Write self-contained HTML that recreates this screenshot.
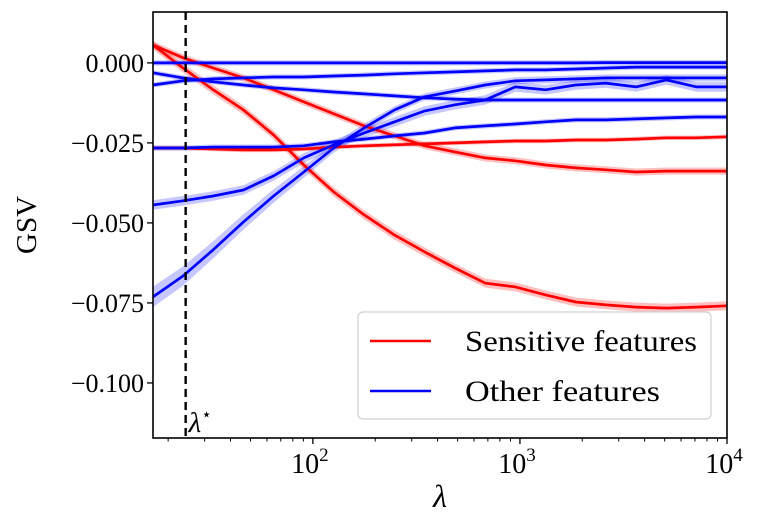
<!DOCTYPE html>
<html><head><meta charset="utf-8"><style>
body{margin:0;background:#fff;}
svg{display:block;font-family:"Liberation Serif","DejaVu Serif",serif;}
</style></head><body>
<svg id="chart" width="761" height="527">
<g id="bands"></g>
<g id="lines"></g>
<g id="axes"></g>
</svg>
<script>
const lambdas=[16.9,23.6,33.0,46.2,64.6,90.4,126,177,248,347,485,679,950,1330,1860,2600,3640,5100,7130,10000];
const lambdaStar=24.3;
const sensA=[0.0056,-0.0016,-0.0084,-0.0147,-0.0225,-0.0319,-0.0403,-0.0475,-0.0538,-0.0591,-0.0641,-0.0688,-0.0700,-0.0725,-0.0747,-0.0756,-0.0763,-0.0766,-0.0763,-0.0759];
const sensB=[0.0056,0.0016,-0.0016,-0.0047,-0.0084,-0.0122,-0.0159,-0.0197,-0.0228,-0.0259,-0.0278,-0.0297,-0.0306,-0.0319,-0.0328,-0.0334,-0.0341,-0.0338,-0.0338,-0.0338];
const sensC=[-0.0266,-0.0266,-0.0269,-0.0272,-0.0272,-0.0269,-0.0263,-0.0259,-0.0256,-0.0253,-0.0250,-0.0247,-0.0244,-0.0244,-0.0241,-0.0241,-0.0238,-0.0234,-0.0234,-0.0231];
const othA=[0,0,0,0,0,0,0,0,0,0,0,0,0,0,0,0.0001,0.0001,0.0001,0.0001,0.0001];
const othB=[-0.0031,-0.0047,-0.0059,-0.0069,-0.0078,-0.0084,-0.0091,-0.0097,-0.0103,-0.0109,-0.0113,-0.0116,-0.0116,-0.0116,-0.0116,-0.0116,-0.0116,-0.0116,-0.0116,-0.0116];
const othC=[-0.0069,-0.0056,-0.0050,-0.0047,-0.0044,-0.0044,-0.0041,-0.0038,-0.0034,-0.0031,-0.0028,-0.0025,-0.0022,-0.0022,-0.0019,-0.0016,-0.0013,-0.0013,-0.0013,-0.0013];
const othD=[-0.0266,-0.0266,-0.0263,-0.0263,-0.0263,-0.0259,-0.0247,-0.0238,-0.0228,-0.0219,-0.0203,-0.0197,-0.0191,-0.0184,-0.0178,-0.0178,-0.0175,-0.0172,-0.0169,-0.0169];
const othE=[-0.0731,-0.0666,-0.0584,-0.0497,-0.0416,-0.0341,-0.0266,-0.0203,-0.0147,-0.0106,-0.0088,-0.0069,-0.0056,-0.0053,-0.0050,-0.0047,-0.0047,-0.0047,-0.0047,-0.0047];
const othF=[-0.0444,-0.0431,-0.0416,-0.0397,-0.0353,-0.0297,-0.0256,-0.0219,-0.0184,-0.0150,-0.0131,-0.0116,-0.0075,-0.0084,-0.0069,-0.0063,-0.0075,-0.0053,-0.0075,-0.0075];
const bandWide=[0.0032,0.0030,0.0027,0.0024,0.0021,0.0018,0.0015,0.0013,0.0012,0.0011,0.0011,0.0011,0.0011,0.0011,0.0011,0.0011,0.0011,0.0011,0.0011,0.0011];
const yTicks=[0,-0.025,-0.05,-0.075,-0.1];
const yTickLabels=["0.000","\u22120.025","\u22120.050","\u22120.075","\u22120.100"];
const xTicks=[100,1000,10000];
const xTickLabels=["2","3","4"];

const X0=153,X1=727,Y0=12,Y1=438;
const lmin=Math.log10(16.9),lmax=4;
const yTop=0.0159,yBot=-0.1172;
function sx(v){return X0+(Math.log10(v)-lmin)/(lmax-lmin)*(X1-X0);}
function sy(v){return Y0+(yTop-v)/(yTop-yBot)*(Y1-Y0);}
const NS="http://www.w3.org/2000/svg";
function mk(tag,attrs,parent){const e=document.createElementNS(NS,tag);for(const k in attrs)e.setAttribute(k,attrs[k]);parent.appendChild(e);return e;}
const bands=document.getElementById('bands'),lines=document.getElementById('lines'),axes=document.getElementById('axes');

const series=[
 {name:'sensitive-series-a',vals:sensA,sd:0.0014,color:'#ff0000',band:'rgba(255,0,0,0.25)'},
 {name:'sensitive-series-b',vals:sensB,sd:0.0011,color:'#ff0000',band:'rgba(255,0,0,0.25)'},
 {name:'sensitive-series-c',vals:sensC,sd:0.0007,color:'#ff0000',band:'rgba(255,0,0,0.25)'},
 {name:'other-series-a',vals:othA,sd:0.0008,color:'#0000ff',band:'rgba(0,0,255,0.22)'},
 {name:'other-series-b',vals:othB,sd:0.0008,color:'#0000ff',band:'rgba(0,0,255,0.22)'},
 {name:'other-series-c',vals:othC,sd:0.0008,color:'#0000ff',band:'rgba(0,0,255,0.22)'},
 {name:'other-series-d',vals:othD,sd:0.0008,color:'#0000ff',band:'rgba(0,0,255,0.22)'},
 {name:'other-series-e',vals:othE,sd:bandWide,color:'#0000ff',band:'rgba(0,0,255,0.22)'},
 {name:'other-series-f',vals:othF,sd:0.0015,color:'#0000ff',band:'rgba(0,0,255,0.22)'}
];
series.forEach(s=>{
  const sd=i=>Array.isArray(s.sd)?s.sd[i]:s.sd;
  let up=s.vals.map((v,i)=>sx(lambdas[i]).toFixed(1)+','+sy(v+sd(i)).toFixed(1));
  let dn=s.vals.map((v,i)=>sx(lambdas[i]).toFixed(1)+','+sy(v-sd(i)).toFixed(1)).reverse();
  const b=mk('polygon',{points:up.concat(dn).join(' '),fill:s.band,stroke:'none'},bands);
  
  
  const p=mk('polyline',{points:s.vals.map((v,i)=>sx(lambdas[i]).toFixed(1)+','+sy(v).toFixed(1)).join(' '),fill:'none',stroke:s.color,'stroke-width':2.7,'stroke-linejoin':'round'},lines);
  
  
});

const ls=mk('line',{x1:sx(lambdaStar),x2:sx(lambdaStar),y1:Y0,y2:Y1,stroke:'#000','stroke-width':2.4,'stroke-dasharray':'8,5'},axes);


const lst=mk('text',{x:sx(lambdaStar)+3,y:432,'font-size':29,'font-style':'italic'},axes);
lst.textContent='λ';


const lsts=mk('tspan',{dy:-12,'font-size':17,'font-style':'normal'},lst);lsts.textContent='⋆';

const fr=mk('rect',{x:X0,y:Y0,width:X1-X0,height:Y1-Y0,fill:'none',stroke:'#000','stroke-width':1.6},axes);



yTicks.forEach((t,i)=>{
  const y=sy(t);
  mk('line',{x1:X0-6,x2:X0,y1:y,y2:y,stroke:'#000','stroke-width':1.3},axes);
  const tx=mk('text',{x:144,y:y+9,'font-size':26,'text-anchor':'end'},axes);
  tx.textContent=yTickLabels[i];
  
  
});
xTicks.forEach((t,i)=>{
  const x=sx(t);
  mk('line',{x1:x,x2:x,y1:Y1,y2:Y1+6,stroke:'#000','stroke-width':1.3},axes);
  const tx=mk('text',{x:x-3,y:473,'font-size':28,'text-anchor':'middle'},axes);
  tx.textContent='10';
  
  
  const sp=mk('tspan',{dy:-12,'font-size':19},tx);sp.textContent=xTickLabels[i];
});
for(let d=10;d<10000;d*=10){for(let m=2;m<10;m++){const v=d*m;if(v<16.9)continue;const x=sx(v);
  mk('line',{x1:x,x2:x,y1:Y1,y2:Y1+3.5,stroke:'#000','stroke-width':1},axes);}}

const xl=mk('text',{x:440,y:507,'font-size':32,'font-style':'italic','text-anchor':'middle'},axes);
xl.textContent='λ';


const yl=mk('text',{x:0,y:0,'font-size':29,'text-anchor':'middle',transform:'translate(36,225) rotate(-90)'},axes);
yl.textContent='GSV';



const lg=mk('g',{},axes);


mk('rect',{x:358,y:312,width:353,height:107,rx:5,fill:'rgba(255,255,255,0.85)',stroke:'#d0d0d0','stroke-width':1.2},lg);
[['Sensitive features','#ff0000',341,232],['Other features','#0000ff',391,195]].forEach(([t,c,y,w])=>{
  const e=mk('g',{},lg);
  
  
  mk('line',{x1:370,x2:431,y1:y,y2:y,stroke:c,'stroke-width':2.4},e);
  const tx=mk('text',{x:465,y:y+10,'font-size':30,textLength:w,lengthAdjust:'spacingAndGlyphs'},e);tx.textContent=t;
});
</script>
</body></html>
